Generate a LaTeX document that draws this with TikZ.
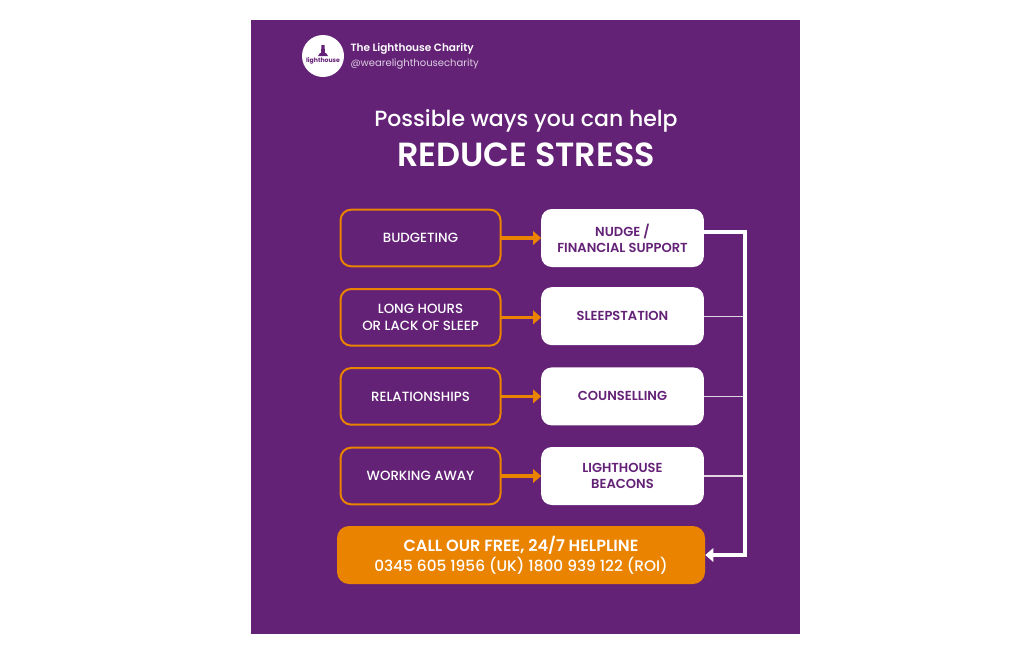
\documentclass[tikz,border=0pt]{standalone}
\usepackage{fontspec}
\setmainfont{Poppins}
\newfontfamily\medfont{Poppins Medium}
\newfontfamily\semifont{Poppins SemiBold}
\usetikzlibrary{positioning,arrows.meta}
\definecolor{lhpurple}{HTML}{642277}
\definecolor{lhorange}{HTML}{E98300}
\tikzset{
    issue/.style={draw=lhorange, line width=1.5pt, rounded corners=8pt, minimum width=120pt, minimum height=42.5pt, align=center, text=white, font=\medfont\fontsize{10}{12.2}\selectfont, outer sep=0pt},
    support/.style={fill=white, rounded corners=8pt, minimum width=122pt, minimum height=43.5pt, align=center, text=lhpurple, font=\semifont\fontsize{9.8}{12.2}\selectfont, outer sep=0pt},
    link/.style={draw=lhorange, line width=2.6pt, -{Triangle[length=6pt,width=10pt]}},
    thinlink/.style={draw=white!80!lhpurple, line width=0.8pt},
    trunk/.style={draw=white, line width=2.4pt}
}
\begin{document}
\begin{tikzpicture}[x=0.75pt,y=-0.75pt]
    \useasboundingbox (0,0) rectangle (1024,654);
    \fill[white] (0,0) rectangle (1024,654);
    \fill[lhpurple] (251,20) rectangle (800,634);

    % header
    \node [circle, fill=white, minimum size=31.5pt, inner sep=0pt] (logo) at (323,56) {};
    \node [text=lhpurple, font=\bfseries\fontsize{4.6}{5}\selectfont, inner sep=0pt] (logotext) at (323,60.5) {lighthouse};
    \fill[lhpurple] (320,53) -- (326,53) -- (328,56) -- (318,56) -- cycle;
    \fill[lhpurple] (321.5,45) -- (324.5,45) -- (325,53) -- (321,53) -- cycle;
    \node [right=4.5pt of logo.east, anchor=west, yshift=5.6pt, inner sep=0pt, text=white, font=\semifont\fontsize{7.9}{9}\selectfont] (charity) {The Lighthouse Charity};
    \node [below=3pt of charity.south west, anchor=north west, inner sep=0pt, text=white!78!lhpurple, font=\fontsize{7.5}{9}\selectfont] (handle) {@wearelighthousecharity};

    % title
    \node [text=white, font=\medfont\fontsize{16.5}{20}\selectfont] (possible) at (526,120.5) {Possible ways you can help};
    \node [text=white, font=\semifont\fontsize{25.1}{28}\selectfont] (reduce) at (526,155) {REDUCE STRESS};

    % boxes
    \node [issue] (budgeting) at (420.5,238) {BUDGETING};
    \node [issue, below=17pt of budgeting] (hours) {LONG HOURS\\OR LACK OF SLEEP};
    \node [issue, below=16.8pt of hours] (relationships) {RELATIONSHIPS};
    \node [issue, below=17.2pt of relationships] (working) {WORKING AWAY};

    \node [support, right=30.5pt of budgeting] (nudge) {NUDGE /\\FINANCIAL SUPPORT};
    \node [support, right=30.5pt of hours, yshift=0.9pt] (sleep) {SLEEPSTATION};
    \node [support, right=30.5pt of relationships] (counselling) {COUNSELLING};
    \node [support, right=30.5pt of working] (beacons) {LIGHTHOUSE\\BEACONS};

    \node [fill=lhorange, rounded corners=9pt, minimum width=276pt, minimum height=43.5pt, align=center, text=white, font=\medfont\fontsize{11.5}{15}\selectfont, inner sep=0pt] (helpline) at (521,555) {{\semifont\fontsize{12.1}{15}\selectfont CALL OUR FREE, 24/7 HELPLINE}\\0345 605 1956 (UK) 1800 939 122 (ROI)};

    % arrows
    \draw [link] (budgeting) -- (nudge.west |- budgeting);
    \draw [link] (hours) -- (sleep.west |- hours);
    \draw [link] (relationships) -- (counselling);
    \draw [link] (working) -- (beacons);

    \coordinate (top) at (745,232);
    \coordinate (bottom) at (745,555);
    \draw [thinlink] (sleep.east) -- (sleep.east -| top);
    \draw [thinlink] (counselling.east) -- (counselling.east -| top);
    \draw [thinlink] (beacons.east) -- (beacons.east -| top);
    \draw [trunk, -{Triangle[length=6pt,width=10pt]}, line join=miter] (nudge.east |- top) -- (top) -- (bottom) -- (helpline.east);
\end{tikzpicture}
\end{document}
